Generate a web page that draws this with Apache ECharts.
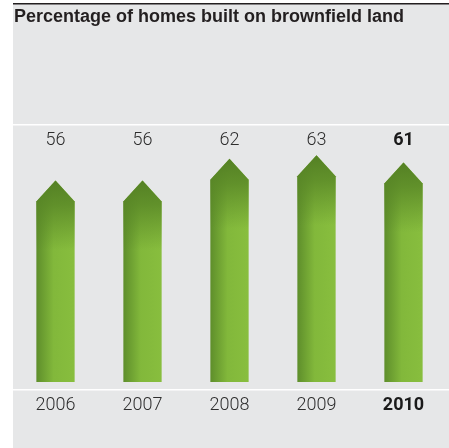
<!DOCTYPE html>
<html>
<head>
<meta charset="utf-8">
<style>
  html, body { margin: 0; padding: 0; background: #ffffff; }
  #chart { width: 449px; height: 448px; }
</style>
<script src="https://cdn.jsdelivr.net/npm/echarts@6/dist/echarts.min.js"></script>
</head>
<body>
<div id="chart"></div>
<script>
// Share of new homes built on previously developed (brownfield) land
const years = ['2006', '2007', '2008', '2009', '2010'];
const shares = [56, 56, 62, 63, 61];
const highlightYear = '2010';

const TITLE = 'Percentage of homes built on brownfield land';
const FONT = 'Roboto, "Liberation Sans", sans-serif';
const VALUE_LABEL_Y = 140;

const chart = echarts.init(document.getElementById('chart'), null, { renderer: 'canvas' });

function renderArrow(params, api) {
  const idx = api.value(0);
  const val = api.value(1);
  const tip = api.coord([idx, val]);
  const base = api.coord([idx, 0]);
  const w = api.size([1, 0])[0] * 0.44;
  const half = w / 2;
  const shoulder = tip[1] + half * 1.1;
  const pts = [
    [tip[0] - half, base[1]],
    [tip[0] - half, shoulder],
    [tip[0], tip[1]],
    [tip[0] + half, shoulder],
    [tip[0] + half, base[1]]
  ];
  const bold = years[idx] === highlightYear;
  return {
    type: 'group',
    children: [
      {
        type: 'polygon',
        shape: { points: pts },
        style: {
          fill: {
            type: 'linear', x: 0, y: 0, x2: 1, y2: 0,
            colorStops: [
              { offset: 0, color: '#5e8e2b' },
              { offset: 0.45, color: '#82b83b' },
              { offset: 1, color: '#88be3e' }
            ]
          }
        }
      },
      {
        type: 'polygon',
        shape: { points: pts },
        style: {
          fill: {
            type: 'linear', global: true,
            x: 0, y: tip[1], x2: 0, y2: tip[1] + 70,
            colorStops: [
              { offset: 0, color: 'rgba(84,128,36,1)' },
              { offset: 0.35, color: 'rgba(88,134,38,0.8)' },
              { offset: 1, color: 'rgba(88,134,38,0)' }
            ]
          }
        }
      },
      {
        type: 'text',
        style: {
          x: tip[0], y: VALUE_LABEL_Y,
          text: String(shares[idx]),
          align: 'center', verticalAlign: 'middle',
          fontFamily: FONT, fontSize: 18,
          fontWeight: bold ? 'bold' : 300,
          fill: bold ? '#1a1a1a' : '#2e2e2e'
        }
      }
    ]
  };
}

chart.setOption({
  backgroundColor: 'transparent',
  animation: false,
  graphic: [
    { type: 'rect', left: 13, top: 4, shape: { width: 436, height: 444 }, style: { fill: '#e6e7e8' }, z: -10 },
    { type: 'rect', left: 13, top: 3, shape: { width: 436, height: 1.5 }, style: { fill: '#231f20' }, z: -5 },
    { type: 'rect', left: 13, top: 124, shape: { width: 436, height: 1.5 }, style: { fill: '#ffffff' }, z: -5 },
    { type: 'rect', left: 13, top: 389, shape: { width: 436, height: 1.5 }, style: { fill: '#ffffff' }, z: -5 },
    {
      type: 'text', left: 14, top: 8,
      style: { text: TITLE, fontFamily: '"Liberation Sans", Arial, sans-serif', fontSize: 18, fontWeight: 'bold', fill: '#231f20' }
    }
  ],
  grid: { left: 12, right: 2, top: 22, bottom: 66, containLabel: false },
  xAxis: {
    type: 'category',
    data: years,
    axisLine: { show: false },
    axisTick: { show: false },
    axisLabel: {
      margin: 14,
      fontFamily: FONT,
      fontSize: 18,
      color: '#2e2e2e',
      fontWeight: 300,
      formatter: v => v === highlightYear ? '{b|' + v + '}' : v,
      rich: { b: { fontFamily: FONT, fontSize: 18, fontWeight: 'bold', color: '#1a1a1a' } }
    }
  },
  yAxis: {
    type: 'value', min: 0, max: 100,
    show: false,
    splitLine: { show: false }
  },
  series: [{
    type: 'custom',
    renderItem: renderArrow,
    data: shares.map((v, i) => [i, v]),
    encode: { x: 0, y: 1 }
  }]
});
</script>
</body>
</html>
